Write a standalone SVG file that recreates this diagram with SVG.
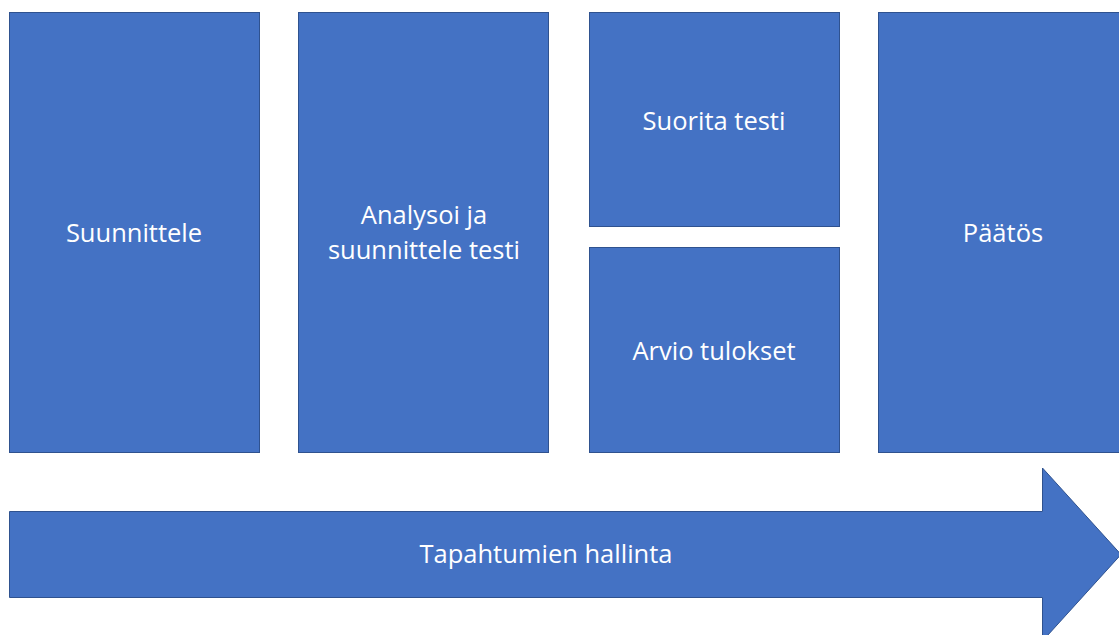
<svg xmlns="http://www.w3.org/2000/svg" width="1119" height="635" viewBox="0 0 1119 635">
  <style>
    .box { fill: #4472C4; stroke: #2F528F; stroke-width: 1; }
    .lbl { fill: #FFFFFF; font-family: "Open Sans", "Liberation Sans", sans-serif; font-size: 25.5px; text-anchor: middle; }
  </style>
  <rect width="1119" height="635" fill="#FFFFFF"/>
  <g id="suunnittele">
    <rect class="box" x="9.5" y="12.5" width="250" height="440"/>
    <text class="lbl" x="134" y="242">Suunnittele</text>
  </g>
  <g id="analysoi">
    <rect class="box" x="298.5" y="12.5" width="250" height="440"/>
    <text class="lbl" x="424" y="224">Analysoi ja</text>
    <text class="lbl" x="424" y="259">suunnittele testi</text>
  </g>
  <g id="suorita">
    <rect class="box" x="589.5" y="12.5" width="250" height="214"/>
    <text class="lbl" x="714" y="130">Suorita testi</text>
  </g>
  <g id="arvio">
    <rect class="box" x="589.5" y="247.5" width="250" height="205"/>
    <text class="lbl" x="714" y="360">Arvio tulokset</text>
  </g>
  <g id="paatos">
    <rect class="box" x="878.5" y="12.5" width="250" height="440"/>
    <text class="lbl" x="1003" y="242">Päätös</text>
  </g>
  <g id="connectors">
    <g id="tapahtumien-hallinta">
      <path class="box" d="M9.5 511.5 H1042.5 V468 L1121 554.5 L1042.5 641 V597.5 H9.5 Z"/>
      <text class="lbl" x="546" y="563">Tapahtumien hallinta</text>
    </g>
  </g>
</svg>
